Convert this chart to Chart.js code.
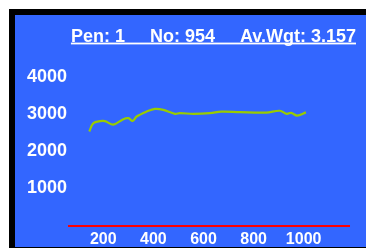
<!DOCTYPE html>
<html>
<head>
<meta charset="utf-8">
<script src="https://cdn.jsdelivr.net/npm/chart.js@4/dist/chart.umd.min.js"></script>
<style>
html,body{margin:0;padding:0;background:#fff;}
#wrap{width:366px;height:248px;position:relative;}
</style>
</head>
<body>
<div id="wrap"><canvas id="c" width="366" height="248"></canvas></div>
<script>
const titleText = "Pen: 1     No: 954     Av.Wgt: 3.157";
const days = [144,160,187,207,240,280,300,317,333,373,406,440,486,506,559,626,671,746,851,905,933,950,974,1009];
const weights = [2532,2758,2814,2814,2721,2866,2893,2820,2937,3071,3144,3117,3009,3028,3009,3028,3071,3055,3044,3093,3009,3036,2963,3050];
const yTicks = [1000,2000,3000,4000];
const xTicks = [200,400,600,800,1000];

const FONT = "'Liberation Sans', Arial, sans-serif";
const BLUE = '#3366ff';

const frame = {
  id: 'frame',
  beforeDraw(chart) {
    const ctx = chart.ctx;
    ctx.save();
    ctx.fillStyle = '#ffffff';
    ctx.fillRect(0, 0, 366, 248);
    ctx.fillStyle = '#000000';
    ctx.fillRect(9, 9, 357, 239);
    ctx.fillStyle = BLUE;
    ctx.fillRect(15, 15, 351, 232);
    ctx.restore();
  },
  afterDraw(chart) {
    const ctx = chart.ctx;
    const a = chart.chartArea;
    const y0 = Math.round(chart.scales.y.getPixelForValue(0));
    ctx.save();
    ctx.fillStyle = '#ff0000';
    ctx.fillRect(Math.round(a.left), y0 - 1, Math.round(a.right - a.left), 2);
    ctx.font = 'bold 18px ' + FONT;
    ctx.fillStyle = '#ffffff';
    ctx.textAlign = 'right';
    ctx.textBaseline = 'alphabetic';
    const right = 356;
    ctx.fillText(titleText, right, 41.5);
    const w = ctx.measureText(titleText).width;
    ctx.fillRect(right - w, 42.6, w, 1.8);
    ctx.restore();
  }
};

new Chart(document.getElementById('c'), {
  type: 'line',
  data: {
    datasets: [{
      data: days.map((d, i) => ({x: d, y: weights[i]})),
      borderColor: '#99cc00',
      borderWidth: 2.2,
      pointRadius: 0,
      tension: 0.35,
      fill: false
    }]
  },
  options: {
    responsive: false,
    animation: false,
    events: [],
    layout: {padding: {top: 40, right: 16, left: 0, bottom: 0}},
    plugins: {legend: {display: false}, title: {display: false}, tooltip: {enabled: false}},
    scales: {
      x: {
        type: 'linear',
        min: 59,
        max: 1185,
        afterFit(s) { s.height = 22.5; },
        afterBuildTicks(s) { s.ticks = xTicks.map(v => ({value: v})); },
        grid: {display: false, drawTicks: false},
        border: {display: false},
        ticks: {color: '#ffffff', font: {family: FONT, size: 16, weight: 'bold'}, padding: 4, maxRotation: 0, autoSkip: false,
          callback: v => String(v)}
      },
      y: {
        min: 0,
        max: 5000,
        afterFit(s) { s.width = 68; },
        afterBuildTicks(s) { s.ticks = yTicks.map(v => ({value: v})); },
        grid: {display: false, drawTicks: false},
        border: {display: false},
        ticks: {color: '#ffffff', font: {family: FONT, size: 18, weight: 'bold'}, padding: 1, autoSkip: false,
          callback: v => String(v)}
      }
    }
  },
  plugins: [frame]
});
</script>
</body>
</html>
